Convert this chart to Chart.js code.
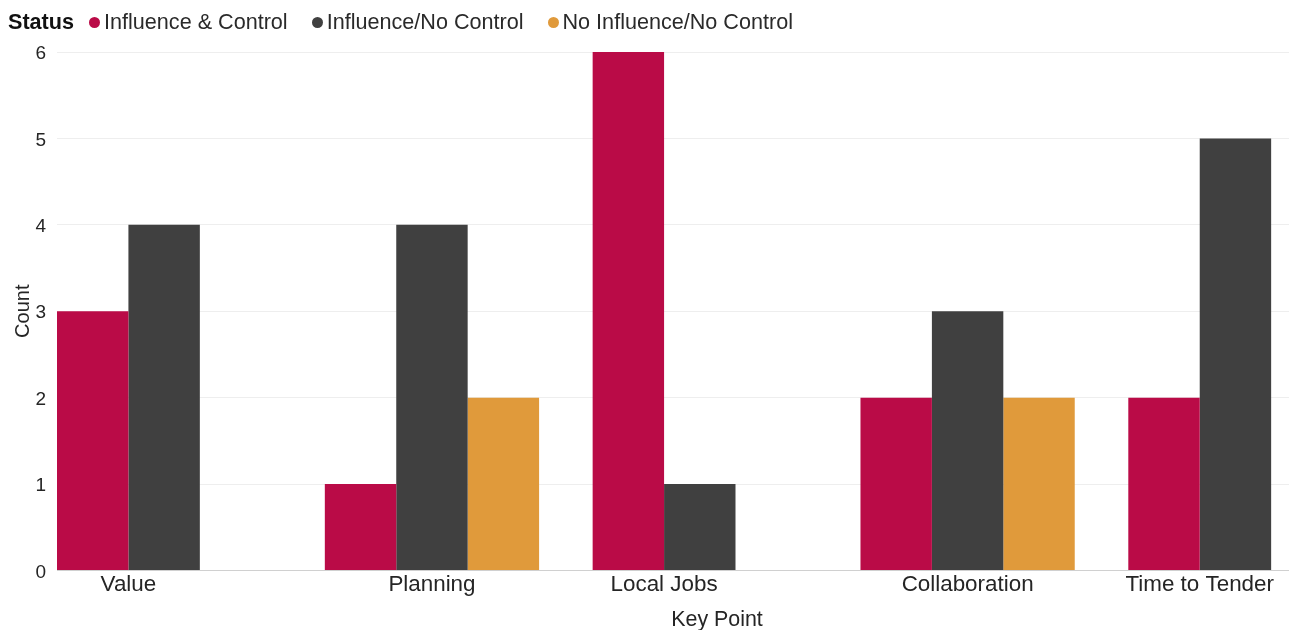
<!DOCTYPE html>
<html>
<head>
<meta charset="utf-8">
<title>Key Point by Status</title>
<script src="https://cdn.jsdelivr.net/npm/chart.js@4.4.1/dist/chart.umd.min.js"></script>
<style>
    html, body {
        margin: 0;
        padding: 0;
        background: #fff;
    }

    #wrap {
        position: relative;
        width: 1289px;
        height: 630px;
    }

    #legend {
        position: absolute;
        left: 8px;
        top: 9px;
        display: flex;
        align-items: center;
        font: 21.6px "Liberation Sans", Arial, sans-serif;
        line-height: 26px;
        color: #2a2a2a;
        white-space: nowrap;
    }

    #legend b {
        color: #111;
        margin-right: 15px;
    }

    #legend .item {
        display: flex;
        align-items: center;
        margin-right: 24px;
    }

    #legend .dot {
        width: 11px;
        height: 11px;
        border-radius: 50%;
        margin-right: 4px;
    }
</style>
</head>
<body>
<div id="wrap">
    <canvas id="keyPointChart" width="1289" height="630"></canvas>
    <div id="legend"><b>Status</b></div>
</div>
<script>
const keyPoints = ['Value', 'Planning', 'Local Jobs', 'Collaboration', 'Time to Tender'];
const influenceControl = [3, 1, 6, 2, 2];
const influenceNoControl = [4, 4, 1, 3, 5];
const noInfluenceNoControl = [null, 2, null, 2, null];
const countMax = 6;

const fontFamily = '"Liberation Sans", Arial, sans-serif';
const textColor = '#252525';
const groupShare = 0.8;

// category names sit under the bars that are actually drawn in each group
const keyPointLabels = {
    id: 'keyPointLabels',
    afterDraw(chart) {
        const {ctx, chartArea, scales: {x}} = chart;
        const sets = chart.data.datasets;
        const slot = groupShare / sets.length;

        ctx.save();
        ctx.fillStyle = textColor;
        ctx.textAlign = 'center';
        ctx.textBaseline = 'alphabetic';
        ctx.font = '22.4px ' + fontFamily;
        keyPoints.forEach((name, i) => {
            const shown = sets.filter(ds => ds.data[i] !== null).length;
            const mid = i - groupShare / 2 + shown * slot / 2;
            ctx.fillText(name, x.getPixelForValue(mid), chartArea.bottom + 20);
        });

        ctx.font = '21.4px ' + fontFamily;
        ctx.fillText('Key Point', 717, chartArea.bottom + 55);
        ctx.restore();
    }
};

const chart = new Chart(document.getElementById('keyPointChart'), {
    type: 'bar',
    data: {
        labels: keyPoints.map((name, i) => i),
        datasets: [
            {label: 'Influence & Control', data: influenceControl, backgroundColor: '#BA0B47'},
            {label: 'Influence/No Control', data: influenceNoControl, backgroundColor: '#404040'},
            {label: 'No Influence/No Control', data: noInfluenceNoControl, backgroundColor: '#E09A3B'},
        ]
    },
    options: {
        responsive: false,
        animation: false,
        categoryPercentage: groupShare,
        barPercentage: 1,
        layout: {
            padding: {top: 52, right: 0, bottom: 0, left: 0}
        },
        plugins: {
            legend: {display: false},
            tooltip: {enabled: false},
        },
        scales: {
            x: {
                type: 'linear',
                offset: false,
                min: -groupShare / 2,
                max: 4.2,
                grid: {display: false},
                border: {display: true, color: '#D0D0D0', width: 1},
                ticks: {display: false},
                afterBuildTicks: scale => {
                    scale.ticks = keyPoints.map((name, i) => ({value: i}));
                },
                afterFit: scale => {
                    scale.height = 59.5;
                },
            },
            y: {
                min: 0,
                max: countMax,
                ticks: {
                    stepSize: 1,
                    padding: 11,
                    labelOffset: 2,
                    color: textColor,
                    font: {family: fontFamily, size: 19},
                },
                grid: {
                    drawTicks: false,
                    color: ctx => ctx.tick && ctx.tick.value === 0 ? '#D0D0D0' : '#EEEEEE',
                },
                border: {display: false},
                title: {
                    display: true,
                    text: 'Count',
                    color: textColor,
                    padding: {top: 11, bottom: 0},
                    font: {family: fontFamily, size: 20},
                },
                afterFit: scale => {
                    scale.width = 57;
                },
            }
        }
    },
    plugins: [keyPointLabels],
});

// status legend: bold heading followed by a dot per series
const legend = document.getElementById('legend');
chart.data.datasets.forEach(ds => {
    const item = document.createElement('span');
    item.className = 'item';
    const dot = document.createElement('span');
    dot.className = 'dot';
    dot.style.background = ds.backgroundColor;
    item.appendChild(dot);
    item.appendChild(document.createTextNode(ds.label));
    legend.appendChild(item);
});
</script>
</body>
</html>
